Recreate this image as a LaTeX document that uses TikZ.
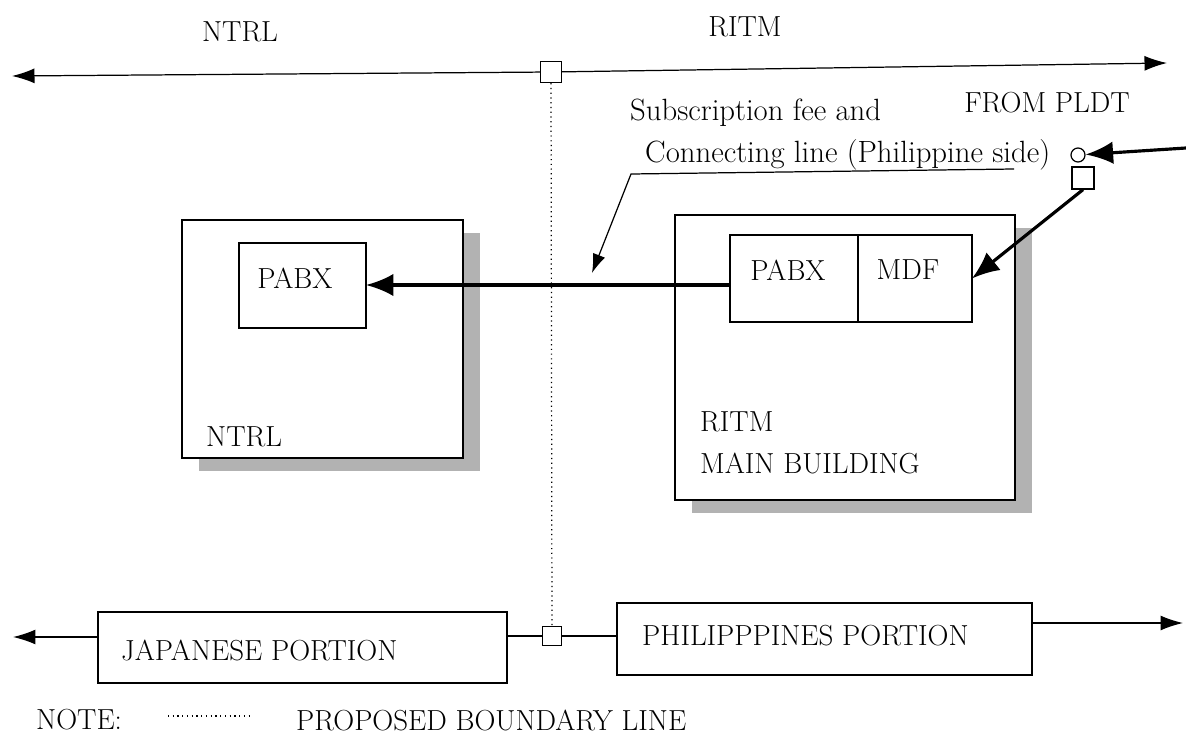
\documentclass[tikz,border=0pt]{standalone}
\usetikzlibrary{arrows.meta, positioning, shadows}
\begin{document}
\begin{tikzpicture}[x=0.02cm, y=-0.02cm, font=\fontsize{16.5}{19}\selectfont,
    box/.style={draw, line width=0.7pt, fill=white, inner sep=0pt, outer sep=0pt},
    bldg/.style={box, drop shadow={shadow xshift=0.34cm, shadow yshift=-0.26cm, fill=black!30, opacity=1}},
    port/.style={draw, line width=0.7pt, fill=white, minimum size=0.42cm, inner sep=0pt},
    thin/.style={line width=0.7pt},
    heavy/.style={line width=1.8pt, -{Latex[length=0.55cm, width=0.45cm]}},
    tip/.style={-{Latex[length=0.45cm, width=0.3cm]}},
    lower/.style={font=\fontsize{17.5}{20}\selectfont}]
\useasboundingbox (0,0) rectangle (1186,740);
% top boundary
\node[port] (bndT) at (551,72) {};
\coordinate (endTL) at (12,76);
\coordinate (endTR) at (1167,63);
\draw[thin, tip] (bndT) -- (endTL);
\draw[thin, tip] (bndT) -- (endTR);
\node (ntrltop) at (240,32) {NTRL};
\node (ritmtop) at (745,27) {RITM};
% buildings
\node[bldg, minimum width=5.62cm, minimum height=4.76cm] (ntrl) at (322.5,339) {};
\node[box, minimum width=2.54cm, minimum height=1.7cm] (pabxL) at (302.5,285.5) {};
\node (pabxLtxt) at (295,278) {PABX};
\node[anchor=west] (ntrlname) at (200,437) {NTRL};
\node[bldg, minimum width=6.8cm, minimum height=5.7cm] (ritm) at (845,357.5) {};
\node[box, minimum width=2.56cm, minimum height=1.74cm] (pabxR) at (794,278.5) {};
\node[box, minimum width=2.28cm, minimum height=1.74cm, right=0pt of pabxR] (mdf) {};
\node (pabxRtxt) at (788,270) {PABX};
\node (mdftxt) at (908,270) {MDF};
\node[anchor=west] (ritmname) at (694,422) {RITM};
\node[anchor=west] (ritmbldg) at (694,463) {MAIN BUILDING};
\draw[heavy] (pabxR.west |- 0,285) -- (pabxL.east |- 0,285);
% line from PLDT
\node (pldt) at (1047,103) {FROM PLDT};
\node[circle, draw, thin, minimum size=0.28cm, inner sep=0pt] (tap) at (1078,155) {};
\node[port, minimum size=0.44cm] (pldtport) at (1083,178) {};
\coordinate (pldtin) at (1186,148);
\draw[heavy] (pldtin) -- (tap);
\draw[heavy] (pldtport.south) -- (mdf.east);
\node[anchor=west, lower] (subs1) at (624,113) {Subscription fee and};
\node[anchor=west, lower] (subs2) at (639,155) {Connecting line (Philippine side)};
\coordinate (leadR) at (1014,169);
\coordinate (leadK) at (631,174);
\coordinate (leadTip) at (592,273);
\draw[thin, -{Latex[length=0.38cm, width=0.26cm]}] (leadR) -- (leadK) -- (leadTip);
% bottom boundary
\node[box, minimum width=8.18cm, minimum height=1.42cm] (jap) at (302.5,647.5) {};
\node[anchor=west] (japtxt) at (115,650) {JAPANESE PORTION};
\node[box, minimum width=8.3cm, minimum height=1.44cm] (phil) at (824.5,639) {};
\node[anchor=west] (philtxt) at (636,636) {PHILIPPPINES PORTION};
\node[port, minimum size=0.38cm] (bndB) at (552,636) {};
\draw[dotted, thin] (bndT) -- (bndB);
\draw[thin] (bndB) -- (bndB -| jap.east);
\draw[thin] (bndB) -- (bndB -| phil.west);
\coordinate (endBL) at (13,637);
\coordinate (endBR) at (1183,623);
\draw[thin, tip] (jap.west |- endBL) -- (endBL);
\draw[thin, tip] (phil.east |- endBR) -- (endBR);
% note
\node[anchor=west] (note) at (30,720) {NOTE:};
\coordinate (keyA) at (168,716);
\coordinate (keyB) at (253,716);
\draw[dotted, thin] (keyA) -- (keyB);
\node[anchor=west] (notetxt) at (290,720) {PROPOSED BOUNDARY LINE};
\end{tikzpicture}
\end{document}
